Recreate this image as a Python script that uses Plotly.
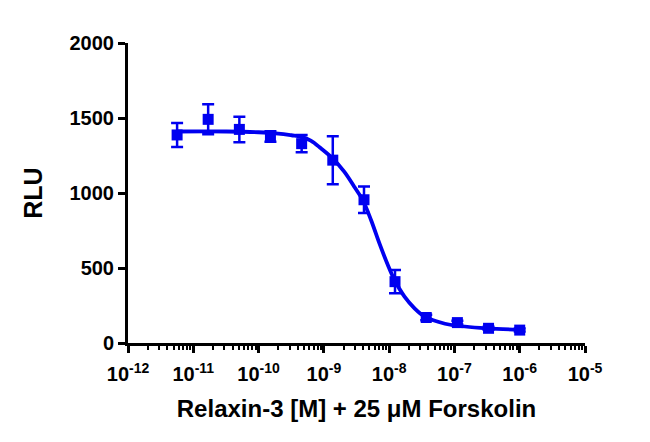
import plotly.graph_objects as go

# Relaxin-3 concentrations (M), 3-fold dilution series
conc = [5.65e-12, 1.69e-11, 5.08e-11, 1.52e-10, 4.57e-10, 1.37e-9,
        4.12e-9, 1.23e-8, 3.70e-8, 1.11e-7, 3.33e-7, 1.0e-6]
rlu_mean = [1387, 1491, 1424, 1376, 1329, 1219, 955, 409, 170, 136, 98, 86]
rlu_sd = [80, 100, 85, 35, 58, 160, 88, 78, 18, 12, 10, 10]

# fitted curve
fit_conc = [5.65e-12, 3.2e-11, 1.0e-10, 2.0e-10, 3.2e-10, 4.4e-10, 6.3e-10,
            9.0e-10, 1.36e-9, 2.05e-9, 2.92e-9, 3.94e-9, 5.28e-9, 7.1e-9,
            9.55e-9, 1.21e-8, 1.72e-8, 2.45e-8, 3.49e-8, 5.61e-8, 9.0e-8,
            3.1e-7, 1.0e-6]
fit_rlu = [1410, 1410, 1405, 1396, 1385, 1376, 1349, 1298, 1231, 1142,
           1042, 953, 820, 664, 520, 420, 309, 231, 176, 142, 120, 98, 89]

x_ticks = [1e-12, 1e-11, 1e-10, 1e-9, 1e-8, 1e-7, 1e-6, 1e-5]
x_tick_text = ["10<sup>-12</sup>", "10<sup>-11</sup>", "10<sup>-10</sup>",
               "10<sup>-9</sup>", "10<sup>-8</sup>", "10<sup>-7</sup>",
               "10<sup>-6</sup>", "10<sup>-5</sup>"]
y_ticks = [0, 500, 1000, 1500, 2000]

blue = "#0000F0"
font = "Liberation Sans, Arial, sans-serif"

fig = go.Figure()
fig.add_trace(go.Scatter(
    x=fit_conc, y=fit_rlu, mode="lines",
    line=dict(color=blue, width=3.8, shape="spline"),
    hoverinfo="skip", showlegend=False))
fig.add_trace(go.Scatter(
    x=conc, y=rlu_mean, mode="markers",
    marker=dict(symbol="square", size=11, color=blue),
    error_y=dict(type="data", array=rlu_sd, color=blue,
                 thickness=2.5, width=6),
    showlegend=False))

axis_common = dict(
    showline=True, linecolor="black", linewidth=3,
    ticks="outside", tickcolor="black", tickwidth=3, ticklen=7,
    showgrid=False, zeroline=False,
    tickfont=dict(family=font, size=20, color="black", weight="bold"),
)

fig.update_xaxes(
    type="log", range=[-12, -5],
    tickvals=x_ticks, ticktext=x_tick_text, ticklabelstandoff=4,
    minor=dict(ticks="outside", ticklen=4, tickwidth=2, tickcolor="black",
               dtick="D1"),
    title=dict(text="Relaxin-3 [M] + 25 \u03bcM Forskolin", standoff=17,
               font=dict(family=font, size=24, color="black", weight="bold")),
    **axis_common)
fig.update_yaxes(
    range=[0, 2000], tickvals=y_ticks,
    title=dict(text="RLU", standoff=20,
               font=dict(family=font, size=25, color="black", weight="bold")),
    **axis_common)

fig.update_layout(
    width=650, height=442,
    margin=dict(l=120, r=73, t=35, b=107),
    plot_bgcolor="white", paper_bgcolor="white",
)

fig.write_html("out.html")
